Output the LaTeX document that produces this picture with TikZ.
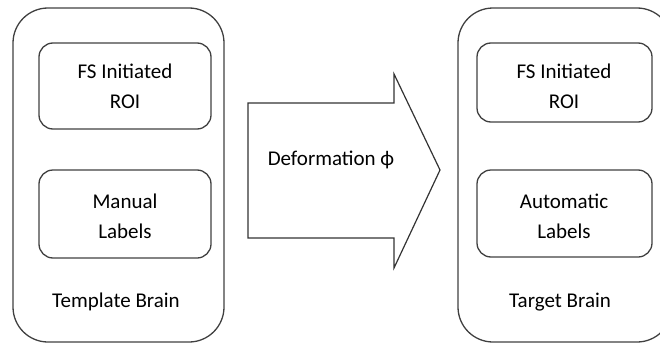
\documentclass[tikz,border=0pt]{standalone}
\usepackage{fontspec}
\setmainfont{Carlito}
\begin{document}
\begin{tikzpicture}[x=1pt,y=-1pt,
  outerbox/.style={draw=black!75,line width=1.3pt,rounded corners=35pt},
  innerbox/.style={draw=black!75,line width=1.3pt,rounded corners=14pt},
  lbl/.style={font=\fontsize{21}{30}\selectfont,align=center,inner sep=0pt,text=black}]
\useasboundingbox (0,0) rectangle (660,345);
\begin{scope}
\clip (0,0) rectangle (660,345);
% left brain
\draw[outerbox] (13,8) rectangle (224,342);
\draw[innerbox] (39,43) rectangle (211,129);
\draw[innerbox] (39,170) rectangle (211,258);
\node[lbl] (l1) at (125,86) {FS Initiated\\ROI};
\node[lbl] (l2) at (125,216) {Manual\\Labels};
\node[lbl] (lt) at (116,302) {Template Brain};
% arrow
\draw[draw=black!80,line width=1.2pt,line join=miter]
  (248,103) -- (394,103) -- (394,74) -- (440,170) -- (394,268) -- (394,238) -- (248,238) -- cycle;
\node[lbl] (def) at (331,160) {Deformation ϕ};
% right brain
\draw[outerbox] (458,8) rectangle (672,342);
\draw[innerbox] (477,43) rectangle (652,122);
\draw[innerbox] (477,170) rectangle (652,257);
\node[lbl] (r1) at (564,86) {FS Initiated\\ROI};
\node[lbl] (r2) at (564,216) {Automatic\\Labels};
\node[lbl] (rt) at (560,302) {Target Brain};
\end{scope}
\end{tikzpicture}
\end{document}
